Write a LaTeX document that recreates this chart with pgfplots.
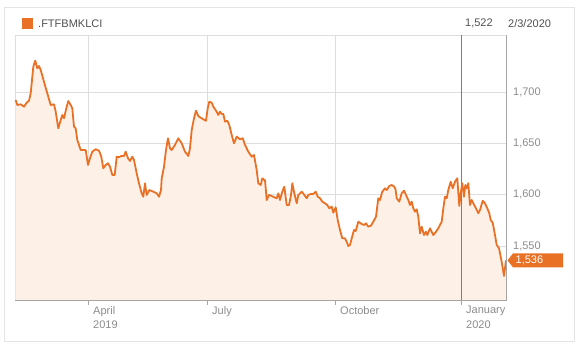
\documentclass[border=0pt]{standalone}
\usepackage{pgfplots}
\pgfplotsset{compat=1.18}
\usepackage{fontspec}
\setmainfont{Liberation Sans}
\definecolor{lineor}{RGB}{233,113,38}
\definecolor{fillor}{RGB}{253,240,231}
\definecolor{gridc}{RGB}{222,222,222}
\definecolor{axc}{RGB}{165,165,165}
\definecolor{lblc}{RGB}{140,140,140}
\definecolor{txtc}{RGB}{80,80,80}
\pgfplotstableread{
x y
15.7 1692.2
17.3 1687.3
20.7 1688.0
24.0 1685.7
26.7 1689.6
29.0 1691.5
30.7 1698.7
33.3 1724.6
35.3 1730.5
37.3 1723.1
39.0 1725.3
40.7 1721.4
44.0 1710.0
47.3 1698.7
50.7 1687.3
54.0 1688.0
55.7 1680.8
58.3 1664.6
60.7 1672.7
62.3 1677.6
64.0 1674.4
66.3 1684.1
68.3 1691.2
70.7 1687.3
72.3 1684.1
74.0 1666.2
75.7 1664.6
77.3 1653.2
79.0 1648.4
80.7 1643.5
83.3 1643.5
85.7 1643.5
88.0 1628.9
90.0 1635.4
92.3 1641.9
95.7 1644.2
99.0 1642.8
101.3 1637.0
103.3 1625.7
105.7 1628.9
108.0 1630.6
110.0 1627.2
112.3 1619.2
114.7 1619.2
116.7 1637.0
119.0 1636.4
121.3 1637.7
124.0 1637.7
125.7 1641.9
128.0 1635.4
130.0 1632.8
132.3 1637.0
134.0 1633.8
136.7 1620.8
139.0 1611.1
141.7 1601.3
143.3 1598.0
145.0 1611.1
146.7 1599.7
149.3 1604.5
153.3 1602.9
156.7 1601.3
159.0 1598.0
161.0 1604.5
161.7 1615.9
164.0 1627.2
166.0 1643.5
168.0 1654.9
170.0 1645.2
171.7 1643.5
175.0 1648.4
178.3 1654.9
181.7 1650.0
185.0 1641.9
188.3 1637.7
190.0 1645.2
191.7 1663.0
194.0 1674.4
196.0 1681.8
198.3 1676.6
200.0 1675.4
203.3 1673.4
206.0 1672.0
207.7 1684.1
209.3 1690.6
211.7 1689.6
213.3 1685.7
216.7 1680.8
218.3 1677.6
220.0 1680.8
221.7 1678.6
223.3 1678.6
225.0 1671.1
227.3 1672.0
229.3 1667.9
231.7 1658.1
234.0 1650.0
236.7 1656.5
240.0 1653.9
242.7 1654.9
245.0 1648.4
248.3 1641.9
251.7 1637.0
254.0 1638.6
256.7 1624.0
258.3 1611.1
260.7 1609.4
262.3 1615.9
264.0 1614.3
265.0 1614.3
266.7 1594.8
269.0 1599.7
271.7 1598.7
274.3 1597.4
276.7 1596.5
278.3 1601.3
280.0 1594.8
282.3 1602.9
284.3 1607.8
286.7 1589.9
289.0 1589.9
291.0 1599.7
292.3 1611.1
294.3 1601.3
296.7 1591.6
298.3 1599.7
301.7 1602.9
304.3 1599.7
306.7 1596.5
308.3 1599.7
311.0 1600.7
313.3 1600.7
315.7 1602.9
317.7 1598.0
320.0 1596.5
322.3 1593.2
325.0 1591.6
327.3 1589.9
329.3 1586.7
331.7 1588.4
333.3 1582.4
335.7 1587.7
337.7 1575.3
340.0 1565.6
342.3 1557.5
345.0 1557.5
346.7 1554.2
348.3 1550.0
350.0 1551.0
351.7 1557.5
354.0 1565.6
355.7 1564.6
358.3 1573.7
361.7 1571.4
364.3 1570.5
366.0 1572.1
368.3 1568.8
371.0 1569.8
373.3 1573.7
376.0 1578.5
378.3 1596.5
380.0 1594.8
382.3 1602.9
385.0 1606.2
386.7 1604.5
389.3 1608.4
391.7 1609.4
394.3 1607.8
395.5 1605.5
396.7 1596.5
399.3 1593.2
401.7 1601.3
404.0 1603.9
406.0 1599.7
408.3 1594.8
410.0 1589.9
411.7 1593.2
413.3 1586.7
415.0 1583.4
416.7 1585.7
418.3 1578.5
420.0 1562.3
421.7 1568.8
424.0 1560.7
426.0 1563.9
427.3 1560.7
430.0 1567.2
431.7 1563.9
433.3 1560.7
436.0 1563.9
438.3 1567.2
440.0 1570.5
441.7 1573.7
443.3 1586.7
445.0 1598.0
446.7 1596.5
448.3 1604.5
450.7 1612.6
452.7 1606.2
455.0 1612.6
457.3 1615.9
459.3 1589.0
460.7 1601.3
462.3 1611.1
464.0 1598.0
465.3 1609.4
466.7 1606.2
468.3 1611.1
470.0 1589.9
471.7 1594.8
473.3 1591.6
476.0 1586.7
478.3 1581.9
480.0 1585.1
482.7 1594.1
485.0 1591.6
487.3 1586.7
489.3 1581.9
490.7 1575.3
492.7 1572.7
495.0 1560.7
496.7 1551.0
499.0 1547.8
501.7 1534.7
504.0 1520.8
506.0 1536.0
}\kl
\begin{document}
\begin{tikzpicture}[x=1pt,y=1pt]
\useasboundingbox (0,0) rectangle (579,347);
\draw[gridc!80, line width=0.8pt] (4.5,5.5) rectangle (574.5,340);
\fill[lineor] (22,318) rectangle (33,329);
\node[anchor=west, inner sep=0, text=txtc, font=\fontsize{11}{13}\selectfont] at (38,323.5) {.FTFBMKLCI};
\node[anchor=west, inner sep=0, text=txtc, font=\fontsize{11}{13}\selectfont] at (465,323.5) {1,522};
\node[anchor=west, inner sep=0, text=txtc, font=\fontsize{11}{13}\selectfont] at (508,323.5) {2/3/2020};
\begin{axis}[
  at={(15pt,47pt)}, anchor=south west, scale only axis,
  width=491pt, height=265pt,
  xmin=15, xmax=506, ymin=1497.4, ymax=1755.5,
  clip=false,
  axis line style={gridc, line width=0.8pt},
  grid=major, major grid style={gridc, line width=0.7pt},
  xtick={88,207,335,461},
  xticklabels={{April\\2019},{July},{October},{January\\2020}},
  xtick pos=bottom, tick align=outside, major tick length=5pt,
  xtick style={axc, line width=0.7pt},
  ytick={1550,1600,1650,1700},
  yticklabel pos=right, ytick style={draw=none},
  xticklabel style={anchor=north west, align=left, inner sep=0, text=lblc,
    font=\fontsize{11}{14.3}\selectfont, xshift=5pt, yshift=-1pt},
  yticklabel style={anchor=west, inner sep=0, text=lblc,
    font=\fontsize{11}{13}\selectfont, xshift=2pt},
  /pgf/number format/1000 sep={,},
  /pgf/number format/assume math mode=true,
]
\addplot[fill=fillor, draw=none] table[x=x,y=y]{\kl} \closedcycle;
\draw[color={rgb,255:red,125;green,125;blue,125}, line width=0.8pt] (axis cs:461,1497.4) -- (axis cs:461,1755.5);
\addplot[lineor, line width=1.8pt, line join=round, mark=none] table[x=x,y=y]{\kl};
\draw[axc, line width=0.8pt] (rel axis cs:1,1) -- (rel axis cs:1,0) -- (rel axis cs:0,0);
\coordinate (P) at (axis cs:506,1536);
\end{axis}
\fill[lineor] ([xshift=1.5pt]P) -- ([xshift=7pt,yshift=7pt]P) -- ([xshift=57pt,yshift=7pt]P) -- ([xshift=57pt,yshift=-7pt]P) -- ([xshift=7pt,yshift=-7pt]P) -- cycle;
\node[anchor=west, inner sep=0, text=white, font=\fontsize{11}{13}\selectfont] at ([xshift=9.5pt]P) {1,536};
\end{tikzpicture}
\end{document}
